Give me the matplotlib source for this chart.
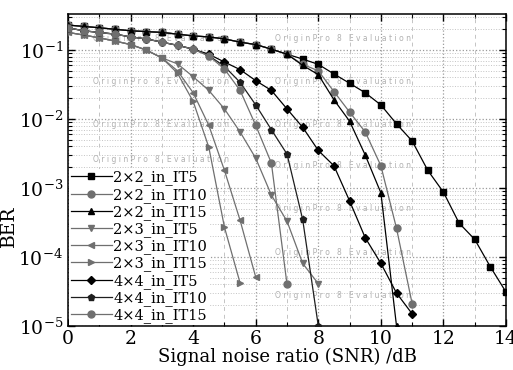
import numpy as np
import matplotlib
matplotlib.use('Agg')
import matplotlib.pyplot as plt
from matplotlib.ticker import LogLocator, MultipleLocator, NullFormatter

plt.rcParams['font.family'] = 'DejaVu Serif'
plt.rcParams['mathtext.fontset'] = 'dejavuserif'

# SNR grid (dB), 0.5 dB steps
snr = [0, 0.5, 1, 1.5, 2, 2.5, 3, 3.5, 4, 4.5, 5, 5.5, 6, 6.5, 7,
       7.5, 8, 8.5, 9, 9.5, 10, 10.5, 11, 11.5, 12, 12.5, 13, 13.5, 14]

# BER values
ber_22_it5 = [0.23, 0.22, 0.21, 0.20, 0.19, 0.185, 0.18, 0.17, 0.16, 0.155, 0.145, 0.13, 0.12, 0.103, 0.087,
              0.074, 0.062, 0.045, 0.033, 0.024, 0.016, 0.0085, 0.0048, 0.0018, 8.7e-4, 3.1e-4, 1.8e-4, 7.2e-5, 3.1e-5]
ber_22_it10 = [0.23, 0.22, 0.21, 0.20, 0.19, 0.185, 0.18, 0.17, 0.16, 0.155, 0.145, 0.13, 0.12, 0.103, 0.087,
               0.062, 0.05, 0.025, 0.0126, 0.0065, 0.0021, 2.6e-4, 2.1e-5]
ber_22_it15 = [0.23, 0.22, 0.21, 0.20, 0.19, 0.185, 0.18, 0.17, 0.16, 0.155, 0.145, 0.13, 0.12, 0.103, 0.087,
               0.06, 0.044, 0.019, 0.0093, 0.003, 8.5e-4, 1e-5]
ber_23_it5 = [0.18, 0.165, 0.15, 0.135, 0.12, 0.1, 0.077,
              0.063, 0.041, 0.026, 0.014, 0.0065, 0.0027, 7.9e-4, 3.3e-4, 8.1e-5, 4.1e-5]
ber_23_it10 = [0.18, 0.165, 0.15, 0.135, 0.12, 0.1, 0.077,
               0.05, 0.024, 0.0081, 0.0018, 3.4e-4, 5.1e-5]
ber_23_it15 = [0.18, 0.165, 0.15, 0.135, 0.12, 0.1, 0.077,
               0.046, 0.018, 0.0039, 2.7e-4, 4.2e-5]
ber_44_it5 = [0.21, 0.19, 0.18, 0.17, 0.155, 0.145, 0.13, 0.117, 0.103,
              0.087, 0.067, 0.052, 0.036, 0.026, 0.014, 0.0076, 0.0035, 0.0021, 6.5e-4, 1.9e-4, 8.1e-5, 3e-5, 1.5e-5]
ber_44_it10 = [0.21, 0.19, 0.18, 0.17, 0.155, 0.145, 0.13, 0.117, 0.103,
               0.083, 0.058, 0.034, 0.016, 0.007, 0.0031, 3.5e-4, 1e-5]
ber_44_it15 = [0.21, 0.19, 0.18, 0.17, 0.155, 0.145, 0.13, 0.117, 0.103,
               0.082, 0.053, 0.026, 0.0081, 0.0023, 4e-5]

labels = ['2×2_in_IT5', '2×2_in_IT10', '2×2_in_IT15',
          '2×3_in_IT5', '2×3_in_IT10', '2×3_in_IT15',
          '4×4_in_IT5', '4×4_in_IT10', '4×4_in_IT15']
series = [ber_22_it5, ber_22_it10, ber_22_it15,
          ber_23_it5, ber_23_it10, ber_23_it15,
          ber_44_it5, ber_44_it10, ber_44_it15]

black = '#000000'
gray = '#6f6f6f'
dark = '#1e1e1e'
styles = [('s', black), ('o', gray), ('^', black),
          ('v', gray), ('<', gray), ('>', gray),
          ('D', black), ('p', dark), ('o', gray)]

fig = plt.figure(figsize=(5.13, 3.70), dpi=100)
ax = fig.add_axes([0.1326, 0.1189, 0.8538, 0.8433])

for ber, lab, (mk, col) in zip(series, labels, styles):
    ms = 4.2 if mk == 'D' else 5
    ax.plot(snr[:len(ber)], ber, color=col, marker=mk, markersize=ms,
            linewidth=0.9, label=lab, zorder=3)

ax.set_yscale('log')
ax.set_xlim(0, 14)
ax.set_ylim(1e-5, 0.333)
ax.xaxis.set_major_locator(MultipleLocator(2))
ax.xaxis.set_minor_locator(MultipleLocator(1))
ax.yaxis.set_major_locator(LogLocator(base=10, numticks=10))
ax.yaxis.set_minor_locator(LogLocator(base=10, subs=np.arange(2, 10), numticks=20))
ax.yaxis.set_minor_formatter(NullFormatter())

ax.grid(which='major', color='#9a9a9a', linestyle=':', linewidth=0.9)
ax.grid(which='minor', axis='y', color='#c4c4c4', linestyle=':', linewidth=0.7)
ax.grid(which='minor', axis='x', color='#c4c4c4', linestyle=(0, (4, 4)), linewidth=0.7)

ax.tick_params(which='both', direction='in', top=True, right=True, labelsize=13.5)
ax.tick_params(which='major', length=5, width=1)
ax.tick_params(which='minor', length=3, width=0.8)
ax.tick_params(axis='x', pad=3)
for sp in ax.spines.values():
    sp.set_linewidth(1.1)

ax.set_xlabel('Signal noise ratio (SNR) /dB', fontsize=13, labelpad=0)
ax.set_ylabel('BER', fontsize=13.5)
ax.yaxis.set_label_coords(-0.115, 0.32)

# evaluation watermark (the rows behind the legend are left out)
wm = 'O r i g i n P r o   8   E v a l u a t i o n'
wm_spots = [(0.057, 0.923), (0.057, 0.785), (0.057, 0.647), (0.057, 0.535),
            (0.473, 0.923), (0.473, 0.785), (0.473, 0.647), (0.473, 0.513),
            (0.473, 0.375), (0.473, 0.237), (0.473, 0.099)]
for xx, yy in wm_spots:
    ax.text(xx, yy, wm, transform=ax.transAxes, fontsize=5.5,
            family='DejaVu Sans', color='#b0b0b0', va='center', zorder=1)

leg = ax.legend(loc='lower left', bbox_to_anchor=(0.0, 0.0), fontsize=10.5,
                frameon=True, framealpha=1, edgecolor='none', fancybox=False,
                handlelength=2.8, handletextpad=0.1, labelspacing=0.16,
                borderpad=0.1, borderaxespad=0.1)
leg.set_zorder(5)

plt.savefig('out.png', dpi=100)
